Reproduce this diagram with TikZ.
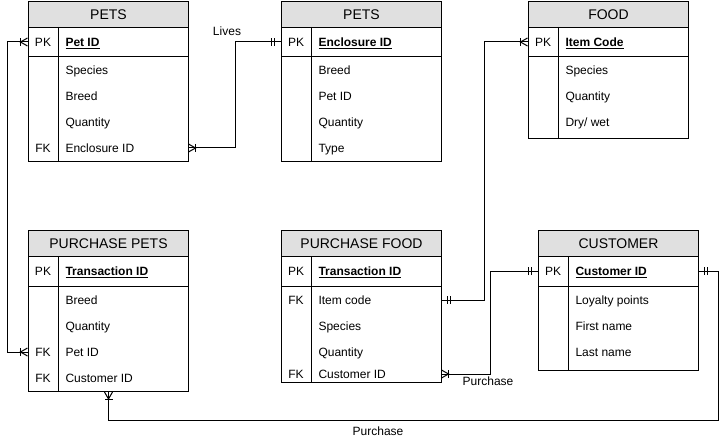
\documentclass[tikz,border=0pt]{standalone}
\usepackage{fontspec}
\setmainfont{Liberation Sans}
\usetikzlibrary{calc}
\definecolor{hdr}{HTML}{E0E0E0}
\newcommand{\etable}[5]{% name, x0, ytop, ybottom, title
  \node[hdrbox, anchor=north west] (#1h) at (#2,-#3) {#5};
  \pgfmathsetmacro{\bodyh}{#4-#3-26}
  \node[bodybox, minimum height=\bodyh pt, anchor=north west] (#1) at (#2,-#3-26) {};
  \draw (#2,-#3-56) -- (#2+160,-#3-56);
  \draw (#2+30,-#3-26) -- (#2+30,-#4);
}
\newcommand{\erow}[5]{% name, x0, ycenter, key, field
  \node[rowbox] (#1) at (#2+80,-#3) {};
  \node[keytxt, anchor=base] (#1k) at (#2+15,-#3-4.3) {#4};
  \node[fldtxt, anchor=base west] (#1f) at (#2+37,-#3-4.3) {#5};
}
\newcommand{\keyf}[1]{\textbf{\underline{#1}}}
\begin{document}
\begin{tikzpicture}[x=1pt,y=1pt,line width=1pt,
  hdrbox/.style={draw, fill=hdr, minimum width=160pt, minimum height=26pt, inner sep=0pt, font=\fontsize{14}{16}\selectfont},
  bodybox/.style={draw, minimum width=160pt, inner sep=0pt},
  rowbox/.style={minimum width=160pt, minimum height=26pt, inner sep=0pt},
  keytxt/.style={font=\fontsize{12}{14}\selectfont, inner sep=0pt},
  fldtxt/.style={font=\fontsize{12}{14}\selectfont, inner sep=0pt},
  lbl/.style={font=\fontsize{12}{14}\selectfont, inner sep=0pt},
  crowbar/.pic={\draw (0,4)--(7,0)--(0,-4); \draw (7,4)--(7,-4);},
  onebar/.pic={\draw (6,4)--(6,-4); \draw (9,4)--(9,-4);}
  ]
\useasboundingbox (0,0) rectangle (728,-441);

% PETS
\etable{ta}{28}{1}{161}{PETS}
\erow{tapk}{28}{42}{PK}{\keyf{Pet ID}}
\erow{tar1}{28}{70}{}{Species}
\erow{tar2}{28}{96}{}{Breed}
\erow{tar3}{28}{122}{}{Quantity}
\erow{taenc}{28}{148}{FK}{Enclosure ID}

% PETS (enclosure)
\etable{tb}{281}{1}{161}{PETS}
\erow{tbpk}{281}{42}{PK}{\keyf{Enclosure ID}}
\erow{tbr1}{281}{70}{}{Breed}
\erow{tbr2}{281}{96}{}{Pet ID}
\erow{tbr3}{281}{122}{}{Quantity}
\erow{tbr4}{281}{148}{}{Type}

% FOOD
\etable{tc}{528}{1}{138}{FOOD}
\erow{tcpk}{528}{42}{PK}{\keyf{Item Code}}
\erow{tcr1}{528}{70}{}{Species}
\erow{tcr2}{528}{96}{}{Quantity}
\erow{tcr3}{528}{122}{}{Dry/ wet}

% PURCHASE PETS
\etable{td}{28}{230}{391}{PURCHASE PETS}
\erow{tdpk}{28}{271}{PK}{\keyf{Transaction ID}}
\erow{tdr1}{28}{300}{}{Breed}
\erow{tdr2}{28}{326}{}{Quantity}
\erow{tdpet}{28}{352}{FK}{Pet ID}
\erow{tdcus}{28}{378}{FK}{Customer ID}

% PURCHASE FOOD
\etable{te}{281}{230}{382}{PURCHASE FOOD}
\erow{tepk}{281}{271}{PK}{\keyf{Transaction ID}}
\erow{teitem}{281}{300}{FK}{Item code}
\erow{ter2}{281}{326}{}{Species}
\erow{ter3}{281}{352}{}{Quantity}
\erow{tecus}{281}{374}{FK}{Customer ID}

% CUSTOMER
\etable{tf}{538}{230}{370}{CUSTOMER}
\erow{tfpk}{538}{271}{PK}{\keyf{Customer ID}}
\erow{tfr1}{538}{300}{}{Loyalty points}
\erow{tfr2}{538}{326}{}{First name}
\erow{tfr3}{538}{352}{}{Last name}

% connectors
\draw (taenc.east) -- ++(47,0) |- (tbpk.west);
\pic at (taenc.east) {crowbar};
\pic[rotate=180] at (tbpk.west) {onebar};
\node[lbl] (lives) at (227,-31) {Lives};

\draw (tapk.west) -- ++(-20,0) |- (tdpet.west);
\pic[rotate=180] at (tapk.west) {crowbar};
\pic[rotate=180] at (tdpet.west) {crowbar};

\draw (tcpk.west) -- ++(-43,0) |- (teitem.east);
\pic[rotate=180] at (tcpk.west) {crowbar};
\pic at (teitem.east) {onebar};

\draw (tecus.east) -- ++(49,0) |- (tfpk.west);
\pic at (tecus.east) {crowbar};
\pic[rotate=180] at (tfpk.west) {onebar};
\node[lbl] (purch1) at (488,-381) {Purchase};

\draw (tfpk.east) -- ++(20,0) -- ++(0,-149) -| (td.south);
\pic at (tfpk.east) {onebar};
\pic[rotate=-90] at (td.south) {crowbar};
\node[lbl] (purch2) at (378,-431) {Purchase};
\end{tikzpicture}
\end{document}
